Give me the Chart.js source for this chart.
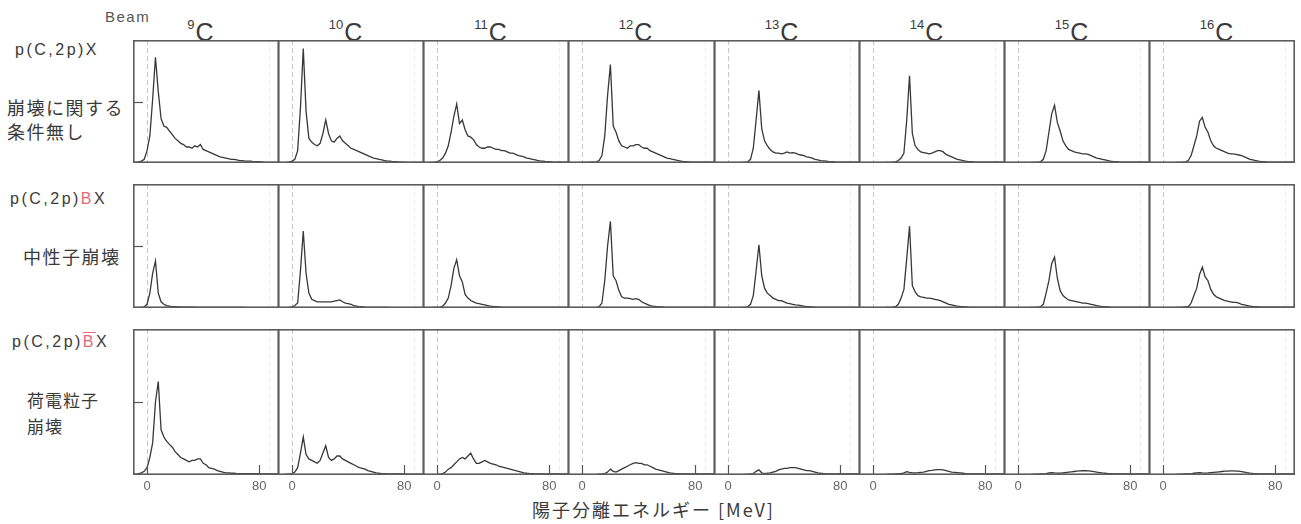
<!DOCTYPE html>
<html>
<head>
<meta charset="utf-8">
<script src="https://cdn.jsdelivr.net/npm/chart.js@4.4.1/dist/chart.umd.min.js"></script>
<style>
  html, body { margin: 0; padding: 0; background: #fff; }
  #stage { position: relative; width: 1301px; height: 524px; overflow: hidden; }
  .lbl { position: absolute; line-height: 1; white-space: nowrap; color: #3a3a3a; }
  .lat { font-family: "Liberation Sans", Arial, sans-serif; }
  .jp  { font-family: "Noto Sans CJK JP", sans-serif; }
  .beam { font-size: 15px; letter-spacing: 1.5px; color: #555; }
  .rxn  { font-size: 16px; letter-spacing: 2.5px; }
  .desc { font-size: 18px; letter-spacing: 1.5px; }
  .red  { color: #e2687a; }
  .bar  { text-decoration: overline; }
  .ctitle { position: absolute; text-align: center; font-family: "Liberation Sans", Arial, sans-serif;
            font-size: 25px; line-height: 25px; color: #3a3a3a; }
  .ctitle span { font-size: 13px; vertical-align: 12px; margin-right: 1px; }
  .xtitle { font-size: 18px; letter-spacing: 2px; }
</style>
</head>
<body>
<div id="stage">
  <div class="lbl lat beam" style="left:105px;top:9px">Beam</div>

  <div class="lbl lat rxn" style="left:15px;top:42px">p(C,2p)X</div>
  <div class="lbl jp desc" style="left:7px;top:98px">崩壊に関する</div>
  <div class="lbl jp desc" style="left:7px;top:122px">条件無し</div>

  <div class="lbl lat rxn" style="left:10px;top:191px">p(C,2p)<span class="red">B</span>X</div>
  <div class="lbl jp desc" style="left:23px;top:247px">中性子崩壊</div>

  <div class="lbl lat rxn" style="left:12px;top:334px">p(C,2p)<span class="red bar">B</span>X</div>
  <div class="lbl jp desc" style="left:27px;top:391px;font-size:17px;letter-spacing:1px">荷電粒子</div>
  <div class="lbl jp desc" style="left:27px;top:417px;font-size:17px;letter-spacing:1px">崩壊</div>

  <div class="lbl jp xtitle" style="left:532px;top:500px">陽子分離エネルギー [MeV]</div>
</div>
<script>
// ── Données ──────────────────────────────────────────────
const MASSES = [9, 10, 11, 12, 13, 14, 15, 16];
const X_TICKS = [0, 80];
const Y_TICK = 50;

const ENERGY = [-10, -8, -6, -4, -2, 0, 2, 4, 6, 8, 10, 12, 14, 16, 18, 20, 22, 24, 26, 28,
  30, 32, 34, 36, 38, 40, 42, 44, 46, 48, 50, 52, 54, 56, 58, 60, 62, 64, 66, 68,
  70, 72, 74, 76, 78, 80, 82, 84, 86, 88, 90, 92, 94];

// p(C,2p)X — pas de condition
const c9_all = [0.5, 0.5, 1, 1.5, 3, 10, 22, 52, 86, 58,
  36, 30, 29, 26, 23, 20, 18, 16, 15, 13,
  13, 12, 14, 13, 15, 11, 10, 9, 8, 7,
  6, 5, 4.5, 4, 3.5, 3, 3, 2.5, 2, 2,
  1.5, 1.5, 1.5, 1, 1, 1, 0.8, 0.5, 0.5, 0.5,
  0.5, 0.5, 0.5];
const c10_all = [0.3, 0.3, 0.3, 0.5, 0.8, 1.5, 3, 10, 45, 93,
  42, 20, 17, 15, 14, 16, 24, 35, 24, 18,
  17, 20, 22, 18, 16, 14, 12, 11, 10, 9,
  8, 7, 6, 5, 4, 3.5, 3, 2.5, 2, 1.5,
  1.5, 1, 1, 0.8, 0.7, 0.6, 0.5, 0.5, 0.5, 0.5,
  0.5, 0.5, 0.5];
const c11_all = [0.3, 0.3, 0.3, 0.5, 0.7, 1, 2, 4, 8, 14,
  25, 38, 48, 32, 35, 27, 22, 21, 19, 15,
  13, 12, 12, 13, 13, 12, 11, 11, 10, 10,
  9, 8, 8, 7, 6, 5.5, 5, 4, 3.5, 3,
  2.5, 2, 1.5, 1.5, 1, 1, 0.8, 0.7, 0.7, 0.7,
  0.7, 0.7, 0.7];
const c12_all = [0.3, 0.3, 0.3, 0.3, 0.3, 0.4, 0.5, 0.5, 0.6, 0.7,
  1, 2, 6, 22, 55, 80, 30, 25, 18, 14,
  13, 12, 14, 14, 15, 15, 13, 12, 12, 10,
  9, 8, 7, 6, 5, 4, 3.5, 3, 2.5, 2,
  1.5, 1.2, 1, 0.8, 0.7, 0.6, 0.6, 0.6, 0.6, 0.6,
  0.6, 0.6, 0.6];
const c13_all = [0.3, 0.3, 0.3, 0.3, 0.3, 0.3, 0.3, 0.3, 0.3, 0.3,
  0.4, 0.5, 1, 3, 12, 35, 59, 28, 18, 14,
  11, 9, 8, 8, 7.5, 8, 9, 8, 8.5, 8,
  7, 6.5, 6, 5, 4.5, 4, 3, 2.5, 2, 1.8,
  1.5, 1.2, 1, 0.8, 0.7, 0.6, 0.6, 0.6, 0.6, 0.6,
  0.6, 0.6, 0.6];
const c14_all = [0.3, 0.3, 0.3, 0.3, 0.3, 0.3, 0.3, 0.3, 0.3, 0.3,
  0.4, 0.5, 0.6, 1, 2, 4, 8, 35, 71, 24,
  14, 11, 9, 8.5, 8, 7.5, 8, 9, 10, 10,
  9, 7, 6, 5, 4, 3, 2.5, 2, 1.5, 1.2,
  1, 0.8, 0.7, 0.6, 0.6, 0.6, 0.6, 0.6, 0.6, 0.6,
  0.6, 0.6, 0.6];
const c15_all = [0.3, 0.3, 0.3, 0.3, 0.3, 0.3, 0.3, 0.3, 0.3, 0.3,
  0.4, 0.5, 0.6, 1, 3, 10, 25, 40, 47, 33,
  26, 18, 14, 11, 10, 9, 8.5, 8, 7.5, 7.5,
  7, 6, 5, 4, 3.5, 3, 2.5, 2, 1.5, 1.2,
  1, 0.8, 0.7, 0.6, 0.6, 0.6, 0.6, 0.6, 0.6, 0.6,
  0.6, 0.6, 0.6];
const c16_all = [0.3, 0.3, 0.3, 0.3, 0.3, 0.3, 0.3, 0.3, 0.3, 0.3,
  0.4, 0.5, 0.6, 1, 2, 6, 14, 22, 34, 37,
  29, 25, 18, 14, 12, 11, 10, 9, 8, 7.5,
  7.5, 7, 6.5, 6, 5, 4, 3, 2.5, 2, 1.5,
  1.2, 1, 0.8, 0.7, 0.6, 0.6, 0.6, 0.6, 0.6, 0.6,
  0.6, 0.6, 0.6];

// p(C,2p)BX — désintégration neutron
const c9_n = [0.3, 0.3, 0.3, 0.5, 1, 3, 12, 28, 38, 12,
  5, 3, 2, 1.5, 1, 1, 0.8, 0.8, 0.7, 0.7,
  0.6, 0.6, 0.6, 0.5, 0.5, 0.5, 0.5, 0.5, 0.4, 0.4,
  0.4, 0.4, 0.4, 0.4, 0.4, 0.4, 0.4, 0.4, 0.4, 0.4,
  0.3, 0.3, 0.3, 0.3, 0.3, 0.3, 0.3, 0.3, 0.3, 0.3,
  0.3, 0.3, 0.3];
const c10_n = [0.3, 0.3, 0.3, 0.3, 0.5, 1, 2, 4, 30, 62,
  28, 12, 7, 6, 5, 5, 5, 5, 5, 5,
  5.5, 6, 6.5, 5, 4, 3.5, 3, 2, 1.5, 1,
  1, 0.7, 0.5, 0.5, 0.5, 0.5, 0.4, 0.4, 0.4, 0.4,
  0.3, 0.3, 0.3, 0.3, 0.3, 0.3, 0.3, 0.3, 0.3, 0.3,
  0.3, 0.3, 0.3];
const c11_n = [0.3, 0.3, 0.3, 0.3, 0.5, 0.5, 0.5, 1.5, 4, 8,
  18, 32, 39, 26, 21, 11, 8, 6, 5, 4,
  3.5, 3, 2.5, 2, 1.5, 1.2, 1, 0.8, 0.6, 0.5,
  0.5, 0.5, 0.5, 0.5, 0.5, 0.5, 0.5, 0.5, 0.5, 0.5,
  0.4, 0.4, 0.4, 0.4, 0.4, 0.4, 0.4, 0.4, 0.4, 0.4,
  0.4, 0.4, 0.4];
const c12_n = [0.3, 0.3, 0.3, 0.3, 0.3, 0.3, 0.3, 0.3, 0.3, 0.3,
  0.5, 1, 4, 22, 50, 70, 26, 22, 14, 9,
  8, 8, 7.5, 7, 7.5, 7, 5, 4, 3, 2,
  1.5, 1.2, 1, 0.8, 0.6, 0.5, 0.5, 0.5, 0.5, 0.5,
  0.4, 0.4, 0.4, 0.4, 0.4, 0.4, 0.4, 0.4, 0.4, 0.4,
  0.4, 0.4, 0.4];
const c13_n = [0.3, 0.3, 0.3, 0.3, 0.3, 0.3, 0.3, 0.3, 0.3, 0.3,
  0.4, 0.5, 1, 3, 10, 30, 51, 26, 16, 12,
  10, 8, 7, 6, 6, 5, 4, 3.5, 3, 2.5,
  2.3, 2, 1.5, 1.2, 1, 0.8, 0.6, 0.5, 0.5, 0.5,
  0.4, 0.4, 0.4, 0.4, 0.4, 0.4, 0.4, 0.4, 0.4, 0.4,
  0.4, 0.4, 0.4];
const c14_n = [0.3, 0.3, 0.3, 0.3, 0.3, 0.3, 0.3, 0.3, 0.3, 0.3,
  0.4, 0.5, 0.6, 1, 3, 8, 15, 40, 66, 18,
  13, 10, 9, 8.5, 8, 8, 7.5, 7, 6.5, 6,
  5, 4, 3, 2.5, 2, 1.5, 1.2, 1, 0.8, 0.6,
  0.5, 0.5, 0.5, 0.5, 0.5, 0.5, 0.5, 0.5, 0.5, 0.5,
  0.5, 0.5, 0.5];
const c15_n = [0.3, 0.3, 0.3, 0.3, 0.3, 0.3, 0.3, 0.3, 0.3, 0.3,
  0.4, 0.5, 0.6, 1, 3, 12, 22, 36, 41, 24,
  14, 10, 8, 6.5, 6, 5.5, 5, 4.5, 4, 4,
  3.5, 3, 2.5, 2, 1.5, 1.2, 1, 0.8, 0.6, 0.5,
  0.5, 0.5, 0.5, 0.5, 0.5, 0.5, 0.5, 0.5, 0.5, 0.5,
  0.5, 0.5, 0.5];
const c16_n = [0.3, 0.3, 0.3, 0.3, 0.3, 0.3, 0.3, 0.3, 0.3, 0.3,
  0.4, 0.5, 0.6, 0.8, 1, 4, 10, 16, 27, 33,
  25, 22, 15, 11, 9, 8, 7, 6, 5.5, 5,
  4.5, 4.5, 4, 3, 2.5, 2, 1.5, 1.2, 1, 0.8,
  0.6, 0.6, 0.6, 0.6, 0.6, 0.6, 0.6, 0.6, 0.6, 0.6,
  0.6, 0.6, 0.6];

// p(C,2p)B̄X — désintégration chargée
const c9_ch = [0.5, 0.5, 1, 1.5, 2.5, 5, 12, 22, 50, 64,
  31, 26, 23, 21, 19, 16, 14, 12, 11, 10,
  9, 10, 10, 11, 11, 8, 7, 5, 4.5, 4,
  3, 2.5, 2, 1.5, 1.5, 1.2, 1.2, 1, 1, 1,
  1, 1, 1, 1, 1, 1, 0.8, 0.8, 0.8, 0.8,
  0.8, 0.8, 0.8];
const c10_ch = [0.3, 0.3, 0.3, 0.5, 0.7, 1, 2, 5, 15, 26,
  14, 11, 10, 9, 8, 10, 15, 20, 12, 10,
  11, 13, 13, 11, 10, 9, 8, 7, 6, 5,
  4.5, 4, 3, 2.5, 2, 1.5, 1.2, 1, 1, 0.8,
  0.8, 0.8, 0.8, 0.8, 0.8, 0.8, 0.6, 0.6, 0.6, 0.6,
  0.6, 0.6, 0.6];
const c11_ch = [0.3, 0.3, 0.3, 0.3, 0.3, 0.3, 0.5, 1, 2, 4,
  5, 7, 9, 11, 12, 11, 13, 15, 11, 8,
  8, 9, 10, 9, 8, 7.5, 7, 6, 5.5, 5,
  4.5, 4, 3.5, 3, 2.5, 2, 1.5, 1.2, 1, 1,
  0.8, 0.8, 0.8, 0.8, 0.8, 0.8, 0.8, 0.8, 0.8, 0.8,
  0.8, 0.8, 0.8];
const c12_ch = [0.3, 0.3, 0.3, 0.3, 0.3, 0.3, 0.3, 0.3, 0.3, 0.3,
  0.3, 0.5, 0.7, 1, 2, 4, 2.5, 2, 3, 4,
  5, 6, 7, 8, 8.5, 8, 8, 7, 7, 6,
  5, 4, 3.5, 3, 2.5, 2, 1.5, 1.2, 1, 1,
  0.8, 0.8, 0.8, 0.8, 0.8, 0.8, 0.8, 0.8, 0.8, 0.8,
  0.8, 0.8, 0.8];
const c13_ch = [0.3, 0.3, 0.3, 0.3, 0.3, 0.3, 0.3, 0.3, 0.3, 0.3,
  0.3, 0.4, 0.5, 0.7, 1, 2.5, 3.5, 1.5, 1, 1.2,
  1.5, 2, 2.5, 3.5, 4, 4.5, 4.5, 5, 5, 5,
  4.5, 4, 3.5, 3, 3, 2.5, 2, 1.5, 1.2, 1,
  0.8, 0.8, 0.8, 0.8, 0.8, 0.8, 0.8, 0.8, 0.8, 0.8,
  0.8, 0.8, 0.8];
const c14_ch = [0.3, 0.3, 0.3, 0.3, 0.3, 0.3, 0.3, 0.3, 0.3, 0.3,
  0.4, 0.5, 0.6, 0.8, 1, 1, 1.5, 2.3, 1.8, 1.5,
  1.5, 1.6, 1.8, 2, 2.5, 3, 3.2, 3.5, 3.7, 3.7,
  3.5, 3, 2.5, 2, 1.8, 1.6, 1.4, 1.2, 1, 0.8,
  0.7, 0.7, 0.7, 0.7, 0.7, 0.7, 0.7, 0.7, 0.7, 0.7,
  0.7, 0.7, 0.7];
const c15_ch = [0.3, 0.3, 0.3, 0.3, 0.3, 0.3, 0.3, 0.3, 0.3, 0.3,
  0.4, 0.5, 0.6, 0.7, 0.8, 1, 1.5, 1.6, 1.4, 1.3,
  1.3, 1.5, 1.7, 2, 2.2, 2.4, 2.6, 2.8, 2.9, 2.9,
  2.8, 2.6, 2.3, 2, 1.7, 1.4, 1.2, 1, 0.9, 0.8,
  0.7, 0.7, 0.7, 0.7, 0.7, 0.7, 0.7, 0.7, 0.7, 0.7,
  0.7, 0.7, 0.7];
const c16_ch = [0.3, 0.3, 0.3, 0.3, 0.3, 0.3, 0.3, 0.3, 0.3, 0.3,
  0.4, 0.5, 0.6, 0.7, 0.7, 0.8, 1.2, 1.5, 1.6, 1.4,
  1.3, 1.4, 1.6, 1.8, 2, 2.2, 2.4, 2.6, 2.7, 2.8,
  2.8, 2.7, 2.6, 2.3, 2, 1.6, 1.3, 1.1, 1, 0.8,
  0.7, 0.7, 0.7, 0.7, 0.7, 0.7, 0.7, 0.7, 0.7, 0.7,
  0.7, 0.7, 0.7];

const ROWS = [
  [c9_all, c10_all, c11_all, c12_all, c13_all, c14_all, c15_all, c16_all],
  [c9_n, c10_n, c11_n, c12_n, c13_n, c14_n, c15_n, c16_n],
  [c9_ch, c10_ch, c11_ch, c12_ch, c13_ch, c14_ch, c15_ch, c16_ch]
];

// ── Mise en page ─────────────────────────────────────────
const COL_LEFT = 133, COL_W = 145.125;
const ROW_TOP = [40, 184, 329, 474];
const AXIS_H = 22;
const stage = document.getElementById('stage');

Chart.defaults.font.family = '"Liberation Sans", Arial, sans-serif';

// cadre, ligne pointillée à 0, petites graduations internes
const panelDecor = {
  id: 'panelDecor',
  beforeDatasetsDraw(chart, args, opts) {
    const { ctx, chartArea: a, scales: { x } } = chart;
    ctx.save();
    ctx.lineWidth = 1;
    ctx.setLineDash([5, 3]);
    ctx.strokeStyle = '#c6c6c6';
    const x0 = Math.round(x.getPixelForValue(0)) + 0.5;
    ctx.beginPath(); ctx.moveTo(x0, a.top); ctx.lineTo(x0, a.bottom); ctx.stroke();
    ctx.strokeStyle = '#ececec';
    const x1 = Math.round(x.getPixelForValue(87)) + 0.5;
    ctx.beginPath(); ctx.moveTo(x1, a.top); ctx.lineTo(x1, a.bottom); ctx.stroke();
    ctx.restore();
  },
  afterDatasetsDraw(chart, args, opts) {
    const { ctx, chartArea: a, scales: { x, y } } = chart;
    ctx.save();
    ctx.strokeStyle = '#555';
    ctx.lineWidth = 1.2;
    if (opts.xTicks) {
      X_TICKS.forEach(v => {
        const px = Math.round(x.getPixelForValue(v)) + 0.5;
        ctx.beginPath(); ctx.moveTo(px, a.bottom); ctx.lineTo(px, a.bottom - 10); ctx.stroke();
      });
    }
    if (opts.yTick) {
      const py = Math.round(y.getPixelForValue(Y_TICK)) + 0.5;
      ctx.beginPath(); ctx.moveTo(a.left, py); ctx.lineTo(a.left + 10, py); ctx.stroke();
    }
    ctx.strokeStyle = '#5c5c5c';
    ctx.lineWidth = 1.6;
    ctx.strokeRect(a.left + 0.8, a.top + 0.8, a.right - a.left - 1.6, a.bottom - a.top - 1.6);
    ctx.restore();
  }
};

// titres des colonnes
MASSES.forEach((m, c) => {
  const left = COL_LEFT + Math.round(COL_W * c);
  const d = document.createElement('div');
  d.className = 'ctitle';
  d.style.cssText = `left:${left - 5}px;top:12px;width:145px`;
  d.innerHTML = `<span>${m}</span>C`;
  stage.appendChild(d);
});

ROWS.forEach((row, r) => {
  row.forEach((vals, c) => {
    const left = COL_LEFT + Math.round(COL_W * c);
    const right = COL_LEFT + Math.round(COL_W * (c + 1));
    const top = ROW_TOP[r], bottom = ROW_TOP[r + 1];
    const isBottom = r === ROWS.length - 1;
    const w = right - left + 1;
    const h = bottom - top + 1 + (isBottom ? AXIS_H : 0);

    const cv = document.createElement('canvas');
    cv.width = w; cv.height = h;
    cv.style.cssText = `position:absolute;left:${left}px;top:${top}px;width:${w}px;height:${h}px`;
    stage.appendChild(cv);

    new Chart(cv, {
      type: 'line',
      data: {
        datasets: [{
          data: ENERGY.map((e, i) => ({ x: e, y: vals[i] })),
          borderColor: '#383838',
          borderWidth: 1.3,
          pointRadius: 0,
          tension: 0,
          fill: false
        }]
      },
      options: {
        responsive: false,
        animation: false,
        events: [],
        layout: { padding: 0 },
        plugins: {
          legend: { display: false },
          tooltip: { enabled: false },
          panelDecor: { xTicks: isBottom, yTick: c === 0 }
        },
        scales: {
          x: {
            type: 'linear', min: -10, max: 94,
            display: isBottom,
            afterBuildTicks: s => { s.ticks = X_TICKS.map(v => ({ value: v })); },
            afterFit: s => { s.height = AXIS_H; },
            grid: { display: false, drawTicks: false },
            border: { display: false },
            ticks: { color: '#666', font: { size: 13 }, padding: 4, maxRotation: 0 }
          },
          y: { min: 0, max: 100, display: false }
        }
      },
      plugins: [panelDecor]
    });
  });
});
</script>
</body>
</html>
